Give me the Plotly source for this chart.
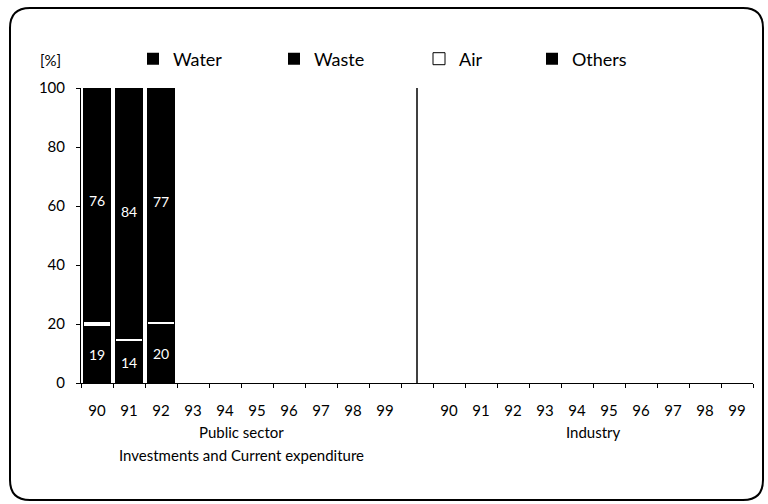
import plotly.graph_objects as go

years = ["90", "91", "92", "93", "94", "95", "96", "97", "98", "99"]
sectors = ["Public sector", "Industry"]
subtitle = "Investments and Current expenditure"

# public sector shares [%], only 1990-1992 reported
water_public = [19, 14, 20]
air_public = [2, 1, 1]
others_public = [3, 1, 2]
waste_public = [76, 84, 77]

W, H = 768, 504
L, R, T, B = 81, 15, 88, 121
FONT = "Lato"


def px_x(p):
    return (p - L) / (W - L - R)


def px_y(p):
    return (H - B - p) / (H - T - B)


x_public = list(range(len(water_public)))
x_ticks = list(range(10)) + list(range(11, 21))

fig = go.Figure()


def add_part(name, vals, legend, color, show_text, line_color=None):
    fig.add_trace(
        go.Bar(
            x=x_public,
            y=vals,
            name=name,
            legend=legend,
            marker=dict(
                color=color,
                line=dict(color=line_color or color, width=1 if line_color else 0),
            ),
            text=[str(v) for v in vals] if show_text else None,
            textposition="inside" if show_text else "none",
            insidetextanchor="middle",
            textangle=0,
            constraintext="none",
            textfont=dict(color="white", size=14, family=FONT),
            hoverinfo="name+y",
        )
    )


add_part("Water", water_public, "legend", "black", True)
add_part("Air", air_public, "legend3", "white", False, line_color="black")
add_part("Others", others_public, "legend4", "black", False)
add_part("Waste", waste_public, "legend2", "black", True)

# divider between the two sectors
fig.add_shape(type="line", x0=10, x1=10, y0=0, y1=100, xref="x", yref="y",
              line=dict(color="black", width=1.5))

# rounded frame round the whole chart
x0, x1 = px_x(10), px_x(763)
y0, y1 = px_y(500), px_y(8)
rx, ry = 20 / (W - L - R), 20 / (H - T - B)
path = (
    f"M{x0 + rx},{y1} L{x1 - rx},{y1} Q{x1},{y1} {x1},{y1 - ry} "
    f"L{x1},{y0 + ry} Q{x1},{y0} {x1 - rx},{y0} "
    f"L{x0 + rx},{y0} Q{x0},{y0} {x0},{y0 + ry} "
    f"L{x0},{y1 - ry} Q{x0},{y1} {x0 + rx},{y1} Z"
)
fig.add_shape(type="path", path=path, xref="paper", yref="paper",
              line=dict(color="black", width=2))

fig.add_annotation(text="[%]", x=px_x(50), y=px_y(60), xref="paper", yref="paper",
                   xanchor="center", yanchor="middle", showarrow=False,
                   font=dict(size=15, family=FONT, color="black"))
fig.add_annotation(text=sectors[0], x=4.5, y=px_y(432), xref="x", yref="paper",
                   yanchor="middle", showarrow=False,
                   font=dict(size=15, family=FONT, color="black"))
fig.add_annotation(text=subtitle, x=4.5, y=px_y(455), xref="x", yref="paper",
                   yanchor="middle", showarrow=False,
                   font=dict(size=15, family=FONT, color="black"))
fig.add_annotation(text=sectors[1], x=15.5, y=px_y(432), xref="x", yref="paper",
                   yanchor="middle", showarrow=False,
                   font=dict(size=15, family=FONT, color="black"))

legend_style = dict(
    orientation="h",
    xanchor="left",
    yanchor="middle",
    y=px_y(59),
    font=dict(size=18, family=FONT, color="black"),
    itemclick=False,
    bgcolor="rgba(0,0,0,0)",
)

fig.update_layout(
    barmode="stack",
    bargap=0.13,
    width=W,
    height=H,
    margin=dict(l=L, r=R, t=T, b=B),
    paper_bgcolor="white",
    plot_bgcolor="white",
    font=dict(family=FONT, size=15, color="black"),
    showlegend=True,
    legend=dict(legend_style, x=px_x(133)),
    legend2=dict(legend_style, x=px_x(274)),
    legend3=dict(legend_style, x=px_x(419)),
    legend4=dict(legend_style, x=px_x(532)),
    xaxis=dict(
        range=[-0.5, 20.5],
        tickmode="array",
        tickvals=x_ticks,
        ticktext=years + years,
        ticks="",
        ticklabelstandoff=14,
        tickfont=dict(size=15),
        showline=True,
        linecolor="black",
        linewidth=1,
        showgrid=False,
        zeroline=False,
        minor=dict(tickmode="array", tickvals=[i + 0.5 for i in range(-1, 21)],
                   ticks="outside", ticklen=4, tickcolor="black", showgrid=False),
    ),
    yaxis=dict(
        range=[0, 100],
        tickmode="array",
        tickvals=[0, 20, 40, 60, 80, 100],
        ticks="outside",
        ticklen=4,
        tickcolor="black",
        ticklabelstandoff=8,
        tickfont=dict(size=15),
        showline=True,
        linecolor="black",
        linewidth=1,
        showgrid=False,
        zeroline=False,
    ),
)

fig.write_html("out.html", config={"displayModeBar": False},
               post_script="document.body.style.margin = '0';")
